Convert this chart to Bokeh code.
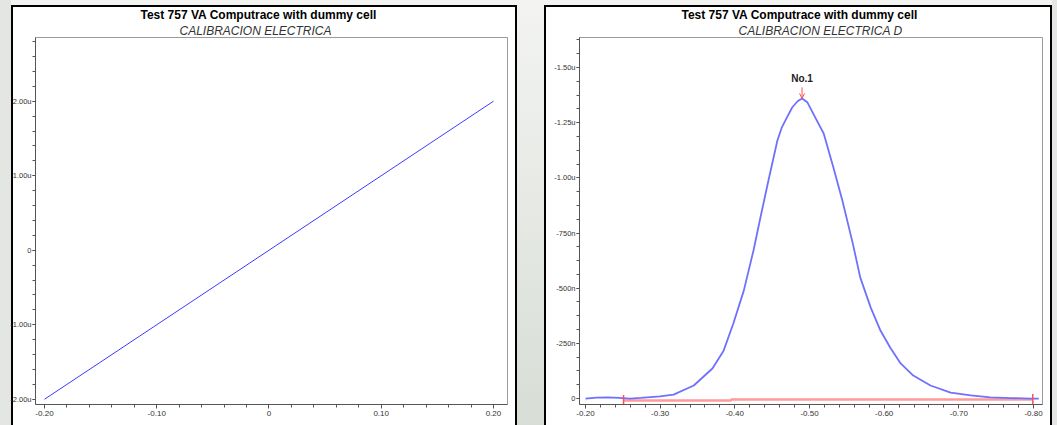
from bokeh.plotting import figure
from bokeh.models import Range1d, FixedTicker, Title, Label, Arrow, OpenHead, Spacer
from bokeh.layouts import row
from bokeh.embed import file_html
from bokeh.resources import INLINE
import numpy as np

# ---------------- data ----------------
main_title = "Test 757 VA Computrace with dummy cell"
left_subtitle = "CALIBRACION ELECTRICA"
right_subtitle = "CALIBRACION ELECTRICA D"
x_title = "U (V)"

# left: calibration line (U in V, I in µA)
cal_potential = [-0.20, 0.20]
cal_current = [-2.00, 2.00]

# right: voltammetric peak (U in V, I in µA, negative = cathodic)
peak_potential = [-0.200, -0.215, -0.230, -0.245, -0.260, -0.274, -0.300, -0.318,
                  -0.345, -0.370, -0.385, -0.398, -0.412, -0.425, -0.434, -0.445,
                  -0.457, -0.463, -0.470, -0.477, -0.484, -0.490, -0.497, -0.505,
                  -0.512, -0.519, -0.532, -0.544, -0.558, -0.568, -0.582, -0.595,
                  -0.608, -0.622, -0.639, -0.662, -0.689, -0.716, -0.742, -0.770,
                  -0.796, -0.807]
peak_current = [0.000, -0.004, -0.005, -0.003, 0.000, -0.003, -0.010, -0.018,
                -0.059, -0.136, -0.217, -0.340, -0.489, -0.671, -0.816, -0.988,
                -1.169, -1.229, -1.275, -1.320, -1.347, -1.360, -1.343, -1.291,
                -1.246, -1.201, -1.047, -0.897, -0.702, -0.548, -0.412, -0.308,
                -0.231, -0.159, -0.104, -0.059, -0.027, -0.014, -0.005, -0.002,
                0.000, 0.000]
baseline_potential = [-0.251, -0.395, -0.395, -0.799]
baseline_current = [0.009, 0.009, 0.0045, 0.0045]
baseline_limits = [-0.251, -0.799]
peak_names = ["No.1"]

left_x_ticks = [-0.20, -0.10, 0.0, 0.10, 0.20]
left_x_labels = ["-0.20", "-0.10", "0", "0.10", "0.20"]
left_y_ticks = [-2.0, -1.0, 0.0, 1.0, 2.0]
left_y_labels = ["-2.00u", "-1.00u", "0", "1.00u", "2.00u"]

right_x_ticks = [-0.20, -0.30, -0.40, -0.50, -0.60, -0.70, -0.80]
right_x_labels = ["-0.20", "-0.30", "-0.40", "-0.50", "-0.60", "-0.70", "-0.80"]
right_y_ticks = [0.0, -0.25, -0.50, -0.75, -1.00, -1.25, -1.50]
right_y_labels = ["0", "-250n", "-500n", "-750n", "-1.00u", "-1.25u", "-1.50u"]

FONT = "Liberation Sans"
H = 425
GREY = "#e3e6e2"
TOPC = "#f3f4f2"


def style_axes(p, xt, xl, xminor, yt, yl, yminor):
    p.xaxis.ticker = FixedTicker(ticks=xt, minor_ticks=xminor)
    p.yaxis.ticker = FixedTicker(ticks=yt, minor_ticks=yminor)
    p.xaxis.major_label_overrides = {float(t): s for t, s in zip(xt, xl)}
    p.yaxis.major_label_overrides = {float(t): s for t, s in zip(yt, yl)}
    for ax in (p.xaxis[0], p.yaxis[0]):
        ax.axis_line_color = "#555555"
        ax.major_tick_line_color = "#555555"
        ax.minor_tick_line_color = "#555555"
        ax.major_tick_in = 0
        ax.minor_tick_in = 0
        ax.major_tick_out = 4
        ax.minor_tick_out = 3
        ax.major_label_standoff = 1
        ax.major_label_text_font = FONT
        ax.major_label_text_font_size = "8px"
        ax.major_label_text_color = "#333333"
    p.yaxis.major_label_text_font_size = "7.5px"
    p.yaxis.major_tick_out = 3
    p.xaxis.major_label_standoff = 2
    p.grid.visible = False
    p.outline_line_color = "#9a9a9a"
    p.outline_line_width = 1
    p.background_fill_color = "white"
    p.border_fill_color = None


def add_titles(p, sub, main_off, sub_off):
    p.add_layout(Title(text=sub, align="left", offset=sub_off, text_font=FONT,
                       text_font_size="12px", text_font_style="italic",
                       text_color="#333333", standoff=0), "above")
    p.add_layout(Title(text=main_title, align="left", offset=main_off, text_font=FONT,
                       text_font_size="12px", text_font_style="bold",
                       text_color="black", standoff=0), "above")


def add_xtitle(p):
    p.add_layout(Label(x=(p.x_range.start + p.x_range.end) / 2, y=p.y_range.start,
                       y_offset=-17, text=x_title, text_align="center",
                       text_baseline="top", text_font=FONT, text_font_size="9px",
                       text_color="#333333"))


# ---------------- left ----------------
left = figure(width=517, height=H, output_backend="svg", toolbar_location=None,
              x_range=Range1d(-0.208, 0.2125), y_range=Range1d(-2.07, 2.855),
              min_border_left=35, min_border_right=10, min_border_top=37,
              min_border_bottom=21)
left.styles = {"background-color": "white",
               "box-shadow": (f"inset 11px 0 0 0 {GREY}, inset 0 5px 0 0 {TOPC}, "
                              "inset 13px 0 0 0 black, inset 0 7px 0 0 black, "
                              "inset -2px 0 0 0 black")}
style_axes(left, left_x_ticks, left_x_labels, list(np.round(np.arange(-0.20, 0.2001, 0.02), 3)),
           left_y_ticks, left_y_labels, list(np.round(np.arange(-2.0, 2.801, 0.2), 2)))
add_titles(left, left_subtitle, 105, 144)
add_xtitle(left)
left.line(cal_potential, cal_current, line_color="#3c3cff", line_width=1)

# ---------------- right ----------------
right = figure(width=513, height=H, output_backend="svg", toolbar_location=None,
               x_range=Range1d(-0.192, -0.812), y_range=Range1d(0.027, -1.636),
               min_border_left=35, min_border_right=15, min_border_top=37,
               min_border_bottom=21)
right.styles = {"background-color": "white",
                "box-shadow": (f"inset -5px 0 0 0 {GREY}, inset 0 5px 0 0 {TOPC}, "
                               "inset -7px 0 0 0 black, inset 2px 0 0 0 black, "
                               "inset 0 7px 0 0 black")}
style_axes(right, right_x_ticks, right_x_labels, list(np.round(np.arange(-0.80, -0.1999, 0.02), 3)),
           right_y_ticks, right_y_labels, list(np.round(np.arange(-1.625, 0.001, 0.0625), 4)))
add_titles(right, right_subtitle, 102, 159)
add_xtitle(right)

right.line(baseline_potential, baseline_current, line_color="#ff9a9a", line_width=2.5)
right.line(peak_potential, peak_current, line_color="#7070ff", line_width=1.8)
right.segment(x0=baseline_limits, x1=baseline_limits,
              y0=[baseline_current[0] - 0.025, baseline_current[-1] - 0.025],
              y1=[baseline_current[0] + 0.04, baseline_current[-1] + 0.04],
              line_color="#ff5050", line_width=1.5)

i_pk = int(np.argmin(peak_current))
px, py = peak_potential[i_pk], peak_current[i_pk]
right.add_layout(Arrow(end=OpenHead(size=5, line_color="#ff5050", line_width=1),
                       x_start=px, y_start=py - 0.05, x_end=px, y_end=py,
                       line_color="#ff5050", line_width=1))
right.add_layout(Label(x=px, y=py, text=peak_names[0], y_offset=14,
                       text_align="center", text_baseline="bottom",
                       text_font=FONT, text_font_size="10px", text_font_style="bold",
                       text_color="#222222"))

gap = Spacer(width=27, height=H,
             styles={"background": f"linear-gradient({TOPC}, #d8ddd6)"})

layout = row(left, gap, right)
open("out.html", "w").write(file_html(layout, INLINE))
